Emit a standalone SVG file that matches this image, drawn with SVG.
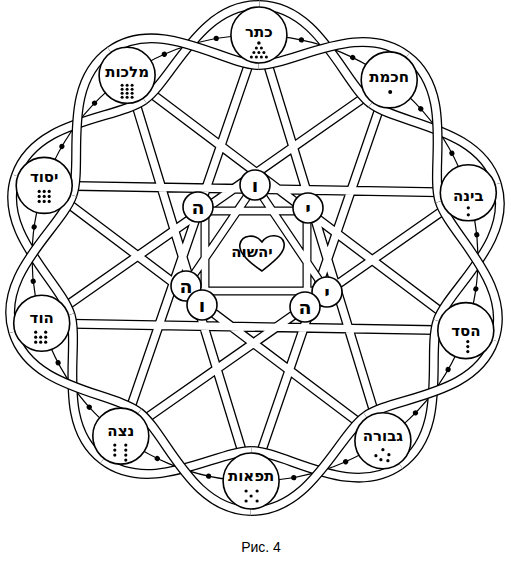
<svg xmlns="http://www.w3.org/2000/svg" width="511" height="567" viewBox="0 0 511 567">
<style>
.bk{fill:none;stroke:#000;stroke-width:10}
.wt{fill:none;stroke:#fff;stroke-width:7.4}
.ib{fill:none;stroke:#000;stroke-width:9}
.iw{fill:none;stroke:#fff;stroke-width:6.6}
.thin{fill:none;stroke:#000;stroke-width:1.2}
.node{fill:#fff;stroke:#000;stroke-width:1.6}
.lbl{font-family:"DejaVu Sans","Liberation Sans",sans-serif;font-weight:bold;font-size:15px;text-anchor:middle;fill:#000}
.let{font-family:"DejaVu Sans","Liberation Sans",sans-serif;font-weight:bold;font-size:19px;text-anchor:middle;fill:#000}
.d{fill:#000}
</style>
<defs>
<path id="sa" d="M255,5 C315.2,5 340.7,81.8 368.4,101.9"/>
<path id="sb" d="M255,65 C289.2,65 355,17.9 403.7,53.3"/>
<g id="ab"><use href="#sa" class="bk"/><use href="#sa" class="wt"/><use href="#sb" class="bk"/><use href="#sb" class="wt"/></g>
<g id="ba"><use href="#sb" class="bk"/><use href="#sb" class="wt"/><use href="#sa" class="bk"/><use href="#sa" class="wt"/></g>
<g id="dp"><circle cx="212.4" cy="39.1" r="2.6"/><circle cx="297.6" cy="39.1" r="2.6"/></g>
</defs>
<rect width="511" height="567" fill="#fff"/>
<g id="connectors">
<g id="star">
<path class="bk" d="M258.9,35 L382.9,440.7 M389.2,79.9 L251.1,481 M468.3,192.8 L120.8,436.1 M465.8,330.6 L41.7,323.2 M382.9,440.7 L44.2,185.4 M251.1,481 L127.1,75.3 M120.8,436.1 L258.9,35 M41.7,323.2 L389.2,79.9 M44.2,185.4 L468.3,192.8 M127.1,75.3 L465.8,330.6"/>
<path class="wt" d="M258.9,35 L382.9,440.7 M389.2,79.9 L251.1,481 M468.3,192.8 L120.8,436.1 M465.8,330.6 L41.7,323.2 M382.9,440.7 L44.2,185.4 M251.1,481 L127.1,75.3 M120.8,436.1 L258.9,35 M41.7,323.2 L389.2,79.9 M44.2,185.4 L468.3,192.8 M127.1,75.3 L465.8,330.6"/>
<path class="ib" d="M205,210 L205,290 M307,210 L307,292 M198,211 L308,211 M186,291 L327,291 M255,185 L186,286 M255,185 L327,292"/>
<path class="iw" d="M205,210 L205,290 M307,210 L307,292 M198,211 L308,211 M186,291 L327,291 M255,185 L186,286 M255,185 L327,292"/>
</g>
<g id="ring" transform="rotate(1 255 258)">
<circle class="thin" cx="255" cy="258" r="223"/>
<g class="d">
<use href="#dp"/><use href="#dp" transform="rotate(36 255 258)"/><use href="#dp" transform="rotate(72 255 258)"/><use href="#dp" transform="rotate(108 255 258)"/><use href="#dp" transform="rotate(144 255 258)"/><use href="#dp" transform="rotate(180 255 258)"/><use href="#dp" transform="rotate(216 255 258)"/><use href="#dp" transform="rotate(252 255 258)"/><use href="#dp" transform="rotate(288 255 258)"/><use href="#dp" transform="rotate(324 255 258)"/>
</g>
<use href="#ab"/><use href="#ba" transform="rotate(36 255 258)"/><use href="#ab" transform="rotate(72 255 258)"/><use href="#ba" transform="rotate(108 255 258)"/><use href="#ab" transform="rotate(144 255 258)"/><use href="#ba" transform="rotate(180 255 258)"/><use href="#ab" transform="rotate(216 255 258)"/><use href="#ba" transform="rotate(252 255 258)"/><use href="#ab" transform="rotate(288 255 258)"/><use href="#ba" transform="rotate(324 255 258)"/>
</g>
</g>
<g id="keter" transform="translate(258.9,35)"><circle class="node" r="28"/><text class="lbl" y="2">כתר</text><g class="d"><circle cx="0" cy="8" r="1.8"/><circle cx="-2.5" cy="13" r="1.5"/><circle cx="2.5" cy="13" r="1.5"/><circle cx="-5" cy="17.5" r="1.5"/><circle cx="0" cy="17.5" r="1.5"/><circle cx="5" cy="17.5" r="1.5"/><circle cx="-7.5" cy="22" r="1.5"/><circle cx="-2.5" cy="22" r="1.5"/><circle cx="2.5" cy="22" r="1.5"/><circle cx="7.5" cy="22" r="1.5"/></g></g>
<g id="chokhmah" transform="translate(389.2,79.9)"><circle class="node" r="28"/><text class="lbl" y="2">חכמת</text><circle class="d" cx="1" cy="12" r="2"/></g>
<g id="binah" transform="translate(468.3,192.8)"><circle class="node" r="28"/><text class="lbl" y="8">בינה</text><g class="d"><circle cx="0" cy="15" r="1.6"/><circle cx="0" cy="22" r="1.6"/></g></g>
<g id="chesed" transform="translate(465.8,330.6)"><circle class="node" r="28"/><text class="lbl" y="5">הסד</text><g class="d"><circle cx="2" cy="11" r="1.6"/><circle cx="2" cy="16" r="1.6"/><circle cx="2" cy="21" r="1.6"/></g></g>
<g id="gevurah" transform="translate(382.9,440.7)"><circle class="node" r="28"/><text class="lbl" y="0">גבורה</text><g class="d"><circle cx="0" cy="9" r="1.6"/><circle cx="-7" cy="15" r="1.6"/><circle cx="6" cy="14" r="1.6"/><circle cx="-2" cy="19" r="1.6"/><circle cx="5" cy="20" r="1.6"/></g></g>
<g id="tiferet" transform="translate(251.1,481)"><circle class="node" r="28"/><text class="lbl" y="0">תפאות</text><g class="d"><circle cx="-5" cy="10" r="1.6"/><circle cx="6" cy="10" r="1.6"/><circle cx="0" cy="15" r="1.6"/><circle cx="-5" cy="20" r="1.6"/><circle cx="6" cy="20" r="1.6"/></g></g>
<g id="netzach" transform="translate(120.8,436.1)"><circle class="node" r="28"/><text class="lbl" y="0">נצה</text><g class="d"><circle cx="-6" cy="9" r="1.6"/><circle cx="-6" cy="14" r="1.6"/><circle cx="-6" cy="19" r="1.6"/><circle cx="5" cy="9" r="1.6"/><circle cx="5" cy="14" r="1.6"/><circle cx="5" cy="19" r="1.6"/><circle cx="5" cy="24" r="1.6"/></g></g>
<g id="hod" transform="translate(41.7,323.2)"><circle class="node" r="28"/><text class="lbl" y="0">הוד</text><g class="d"><circle cx="-6" cy="9" r="1.6"/><circle cx="4" cy="9" r="1.6"/><circle cx="-6" cy="14" r="1.6"/><circle cx="-1" cy="14" r="1.6"/><circle cx="4" cy="14" r="1.6"/><circle cx="-6" cy="19" r="1.6"/><circle cx="-1" cy="19" r="1.6"/><circle cx="4" cy="19" r="1.6"/></g></g>
<g id="yesod" transform="translate(44.2,185.4)"><circle class="node" r="28"/><text class="lbl" y="-3">יסוד</text><g class="d"><circle cx="-5" cy="6" r="1.6"/><circle cx="0" cy="6" r="1.6"/><circle cx="5" cy="6" r="1.6"/><circle cx="-5" cy="11" r="1.6"/><circle cx="0" cy="11" r="1.6"/><circle cx="5" cy="11" r="1.6"/><circle cx="-5" cy="16" r="1.6"/><circle cx="0" cy="16" r="1.6"/><circle cx="5" cy="16" r="1.6"/></g></g>
<g id="malkhut" transform="translate(127.1,75.3)"><circle class="node" r="28"/><text class="lbl" y="2">מלכות</text><g class="d"><circle cx="-5" cy="10" r="1.5"/><circle cx="0" cy="10" r="1.5"/><circle cx="5" cy="10" r="1.5"/><circle cx="-5" cy="14" r="1.5"/><circle cx="0" cy="14" r="1.5"/><circle cx="5" cy="14" r="1.5"/><circle cx="-5" cy="18" r="1.5"/><circle cx="0" cy="18" r="1.5"/><circle cx="5" cy="18" r="1.5"/><circle cx="-5" cy="22" r="1.5"/><circle cx="0" cy="22" r="1.5"/><circle cx="5" cy="22" r="1.5"/></g></g>
<g id="center-heart"><path class="node" d="M262,271 C250,263 238,253 240,244 C242,235 255,233 262,242 C268,233 282,234 284,243 C286,253 272,263 262,271 Z"/><text class="lbl" x="252" y="257" font-size="16">יהשוה</text></g>
<g id="l-vav-top" transform="translate(255,185)"><circle class="node" r="15"/><text class="let" y="7">ו</text></g>
<g id="l-he-left" transform="translate(198,207)"><circle class="node" r="15"/><text class="let" y="7">ה</text></g>
<g id="l-yod-right" transform="translate(308,208)"><circle class="node" r="15"/><text class="let" y="7">י</text></g>
<g id="l-he-ll" transform="translate(186,286)"><circle class="node" r="15"/><text class="let" y="7">ה</text></g>
<g id="l-vav-ll" transform="translate(202,305)"><circle class="node" r="15"/><text class="let" y="7">ו</text></g>
<g id="l-yod-lr" transform="translate(327,292)"><circle class="node" r="15"/><text class="let" y="7">י</text></g>
<g id="l-he-lr" transform="translate(305,307)"><circle class="node" r="15"/><text class="let" y="7">ה</text></g>
<text x="261" y="552" font-family="Liberation Sans, Arial, sans-serif" font-size="14" text-anchor="middle">Рис. 4</text>
</svg>
